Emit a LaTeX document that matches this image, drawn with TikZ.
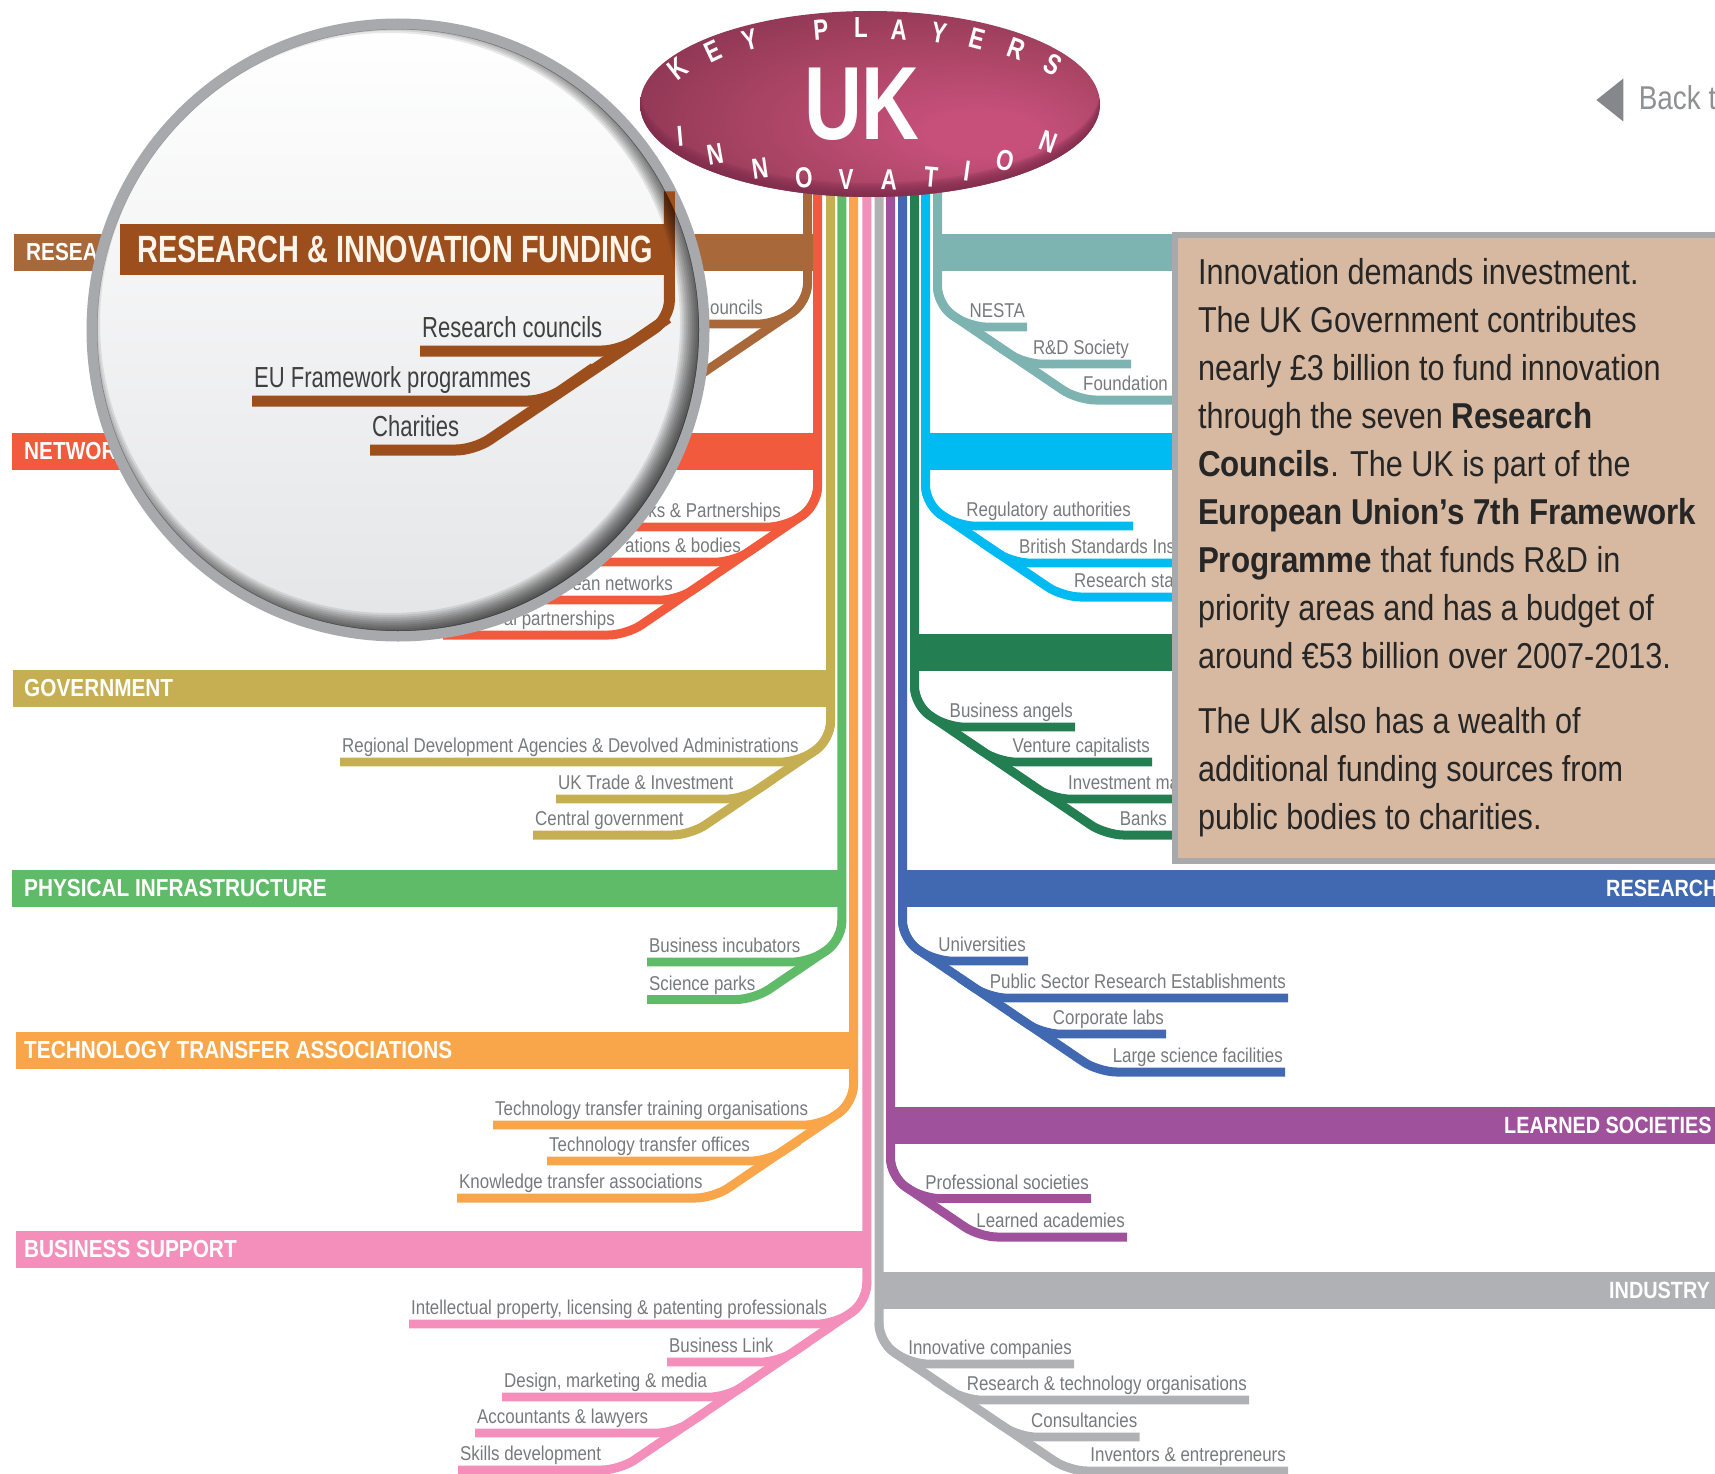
\documentclass[tikz,border=0pt]{standalone}
\usepackage{fontspec}
\usepackage{xcolor}
\usepackage{tikz}
\usetikzlibrary{shapes.geometric, positioning, calc}
\setmainfont[FakeStretch=0.845]{Liberation Sans}
\newfontfamily\panelfont[FakeStretch=0.85, BoldFeatures={FakeStretch=0.87}]{Liberation Sans}
\newfontfamily\lensfont[FakeStretch=0.76]{Liberation Sans}
\newfontfamily\ukfont[FakeStretch=0.77]{Liberation Sans}

\definecolor{brownc}{HTML}{A8683A}
\definecolor{redc}{HTML}{F15A3C}
\definecolor{goldc}{HTML}{C5AF52}
\definecolor{greenc}{HTML}{5FBB68}
\definecolor{orangec}{HTML}{F9A64A}
\definecolor{pinkc}{HTML}{F48FBC}
\definecolor{greyc}{HTML}{B0B1B4}
\definecolor{purplec}{HTML}{A0519C}
\definecolor{bluec}{HTML}{4169B2}
\definecolor{dkgreenc}{HTML}{237F52}
\definecolor{cyanc}{HTML}{00BAF2}
\definecolor{tealc}{HTML}{7DB4B2}
\definecolor{labgrey}{HTML}{77797C}
\definecolor{ringc}{HTML}{A7A9AC}
\definecolor{tanc}{HTML}{D7B9A1}
\definecolor{lensbrown}{HTML}{9C4E1C}
\definecolor{lensgrey}{HTML}{E4E5E7}
\definecolor{ukhi}{HTML}{C6507A}
\definecolor{ukmid}{HTML}{A2415F}
\definecolor{ukdark}{HTML}{7E2C4C}
\pgfdeclareradialshading{ukshade}{\pgfpoint{14bp}{-9bp}}{color(0bp)=(ukhi); color(6bp)=(ukhi); color(24bp)=(ukmid); color(40bp)=(ukdark); color(50bp)=(ukdark)}

\begin{document}
\begin{tikzpicture}[
    x=1pt, y=-1pt,
    barbox/.style={rectangle, anchor=west, inner xsep=8pt, inner ysep=0pt, minimum height=37pt, align=flush left, text=white, font=\fontsize{24.6}{30}\selectfont\bfseries},
    barright/.style={barbox, font=\fontsize{23.5}{30}\selectfont\bfseries},
    lab/.style={anchor=south west, inner xsep=2pt, inner ysep=9pt, text height=14pt, text depth=0pt, text=labgrey, font=\fontsize{20}{24}\selectfont},
    labr/.style={lab, anchor=south east},
    lablens/.style={lab, inner ysep=13pt, text height=20pt, text=black!75, font=\lensfont\fontsize{29}{34}\selectfont},
    subln/.style={line width=8.7pt, rounded corners=18pt},
    trunk/.style={line width=9pt, rounded corners=18pt},
    ltr/.style={text=white, inner sep=0pt, font=\ukfont\fontsize{29}{34}\selectfont\bfseries}
]
\useasboundingbox (0,0) rectangle (1715,1474);
\clip (0,0) rectangle (1715,1474);

% Coloured bars
\node[barbox, fill=brownc, text width=782.5pt] (fundbar) at (14,252.5) {\hspace*{4pt}RESEA};
\node[barbox, fill=redc, text width=794pt] (netbar) at (12,451.5) {\hspace*{4pt}NETWOR};
\node[barbox, fill=goldc, text width=806pt] (govbar) at (13,688.5) {\hspace*{3pt}GOVERNMENT};
\node[barbox, fill=greenc, text width=818pt] (physbar) at (12,888) {\hspace*{4pt}PHYSICAL INFRASTRUCTURE};
\node[barbox, fill=orangec, text width=826pt] (ttabar) at (16,1050.5) {TECHNOLOGY TRANSFER ASSOCIATIONS};
\node[barbox, fill=pinkc, text width=839pt] (bizbar) at (16,1249.5) {BUSINESS SUPPORT};
\node[barbox, fill=tealc, text width=231pt] (tealbar) at (933,252.5) {};
\node[barbox, fill=cyanc, text width=243pt] (cyanbar) at (921,451.5) {};
\node[barbox, fill=dkgreenc, text width=254pt] (finbar) at (910,652.5) {};
\node[barright, fill=bluec, text width=816pt] (resbar) at (898,888) {\hspace*{700pt}\rlap{RESEARCH}};
\node[barright, fill=purplec, text width=828pt] (socbar) at (886,1125.5) {\hspace*{610pt}\rlap{LEARNED SOCIETIES}};
\node[barright, fill=greyc, text width=839pt] (indbar) at (875,1290.5) {\hspace*{726pt}\rlap{INDUSTRY}};

% Tops of the trunks, behind the oval
\coordinate (browntop) at (807.5,110);
\coordinate (redtop) at (817.5,110);
\coordinate (goldtop) at (830.5,110);
\coordinate (greentop) at (841.75,110);
\coordinate (orangetop) at (853.5,110);
\coordinate (pinktop) at (866.75,110);
\coordinate (greytop) at (879,110);
\coordinate (purpletop) at (890.5,110);
\coordinate (bluetop) at (902.5,110);
\coordinate (dkgreentop) at (914.5,110);
\coordinate (cyantop) at (925.5,110);
\coordinate (tealtop) at (937.5,110);

% Funding, left
\node[labr] (councils) at (765,324) {ouncils};
\draw[subln, brownc] ([xshift=-100pt]councils.south east) -- ++(110.5,0) -- ++(32,-22) -- ++(0,-20);
\draw[trunk, brownc] (browntop) -- (807.5,302) -- (663,400) -- (600,400);

% Networks, left
\node[labr] (links) at (783,527) {ks \& Partnerships};
\node[labr] (assoc) at (743,562) {ations \& bodies};
\node[labr] (eunet) at (675,600) {ean networks};
\node[labr] (intl) at (617,635) {al partnerships};
\draw[subln, redc] ([xshift=-163pt]links.south east) -- ++(165.5,0) -- ++(32,-22) -- ++(0,-20);
\draw[subln, redc] ([xshift=-153pt]assoc.south east) -- ++(143.5,0) -- ++(30,-20);
\draw[subln, redc] ([xshift=-145pt]eunet.south east) -- ++(148,0) -- ++(30,-20);
\draw[trunk, redc] (redtop) -- (817.5,505) -- (626.5,635) -- ([xshift=-174pt]intl.south east);

% Government, left
\node[lab] (regional) at (340,762) {Regional Development Agencies \& Devolved Administrations};
\node[lab] (uktrade) at (556,799) {UK Trade \& Investment};
\node[lab] (central) at (533,835) {Central government};
\draw[subln, goldc] (regional.south west) -- ++(458.5,0) -- ++(32,-22) -- ++(0,-20);
\draw[subln, goldc] (uktrade.south west) -- ++(187.5,0) -- ++(30,-20);
\draw[trunk, goldc] (goldtop) -- (830.5,740) -- (690.5,835) -- (central.south west);

% Physical infrastructure, left
\node[lab] (incub) at (647,962) {Business incubators};
\node[lab] (parks) at (647,999.5) {Science parks};
\draw[subln, greenc] (incub.south west) -- ++(162.75,0) -- ++(32,-22) -- ++(0,-20);
\draw[trunk, greenc] (greentop) -- (841.75,940) -- (754,999.5) -- (parks.south west);

% Technology transfer, left
\node[lab] (ttorg) at (493,1125) {Technology transfer training organisations};
\node[lab] (ttoff) at (547,1161) {Technology transfer offices};
\node[lab] (kta) at (457,1198) {Knowledge transfer associations};
\draw[subln, orangec] (ttorg.south west) -- ++(328.5,0) -- ++(32,-22) -- ++(0,-20);
\draw[subln, orangec] (ttoff.south west) -- ++(221.5,0) -- ++(30,-20);
\draw[trunk, orangec] (orangetop) -- (853.5,1103) -- (713.5,1198) -- (kta.south west);

% Business support, left
\node[lab] (ipr) at (409,1324) {Intellectual property, licensing \& patenting professionals};
\node[lab] (blink) at (667,1362) {Business Link};
\node[lab] (design) at (502,1397) {Design, marketing \& media};
\node[lab] (account) at (475,1433) {Accountants \& lawyers};
\node[lab] (skills) at (458,1470) {Skills development};
\draw[subln, pinkc] (ipr.south west) -- ++(425.75,0) -- ++(32,-22) -- ++(0,-20);
\draw[subln, pinkc] (blink.south west) -- ++(111.6,0) -- ++(30,-20);
\draw[subln, pinkc] (design.south west) -- ++(225,0) -- ++(30,-20);
\draw[subln, pinkc] (account.south west) -- ++(199,0) -- ++(30,-20);
\draw[trunk, pinkc] (pinktop) -- (866.75,1302) -- (619.7,1470) -- (skills.south west);

% Industry, right
\node[labr] (innov) at (1074,1364) {Innovative companies};
\node[labr] (rto) at (1249,1400) {Research \& technology organisations};
\node[labr] (consult) at (1139.5,1437) {Consultancies};
\node[labr] (inventors) at (1288,1471) {Inventors \& entrepreneurs};
\draw[subln, greyc] (innov.south east) -- ++(-163,0) -- ++(-32,-22) -- ++(0,-20);
\draw[subln, greyc] (rto.south east) -- ++(-285,0) -- ++(-30,-20);
\draw[subln, greyc] (consult.south east) -- ++(-120.5,0) -- ++(-30,-20);
\draw[trunk, greyc] (greytop) -- (879,1342) -- (1069,1471) -- (inventors.south east);

% Learned societies, right
\node[labr] (prof) at (1091,1198.5) {Professional societies};
\node[labr] (learned) at (1127,1237) {Learned academies};
\draw[subln, purplec] (prof.south east) -- ++(-168.5,0) -- ++(-32,-22) -- ++(0,-20);
\draw[trunk, purplec] (purpletop) -- (890.5,1176.5) -- (979.5,1237) -- (learned.south east);

% Research, right
\node[labr] (univ) at (1028,961) {Universities};
\node[labr] (publicsec) at (1288,998) {Public Sector Research Establishments};
\node[labr] (corplabs) at (1166,1034) {Corporate labs};
\node[labr] (largesci) at (1285,1072) {Large science facilities};
\draw[subln, bluec] (univ.south east) -- ++(-93.5,0) -- ++(-32,-22) -- ++(0,-20);
\draw[subln, bluec] (publicsec.south east) -- ++(-298.5,0) -- ++(-30,-20);
\draw[subln, bluec] (corplabs.south east) -- ++(-123.5,0) -- ++(-30,-20);
\draw[trunk, bluec] (bluetop) -- (902.5,939) -- (1098.5,1072) -- (largesci.south east);

% Finance, right
\node[labr] (angels) at (1075,727) {Business angels};
\node[labr] (venture) at (1152,762) {Venture capitalists};
\node[lab] (invest) at (1066,799) {Investment ma};
\node[labr] (banks) at (1169,835) {Banks};
\draw[subln, dkgreenc] (angels.south east) -- ++(-128.5,0) -- ++(-32,-22) -- ++(0,-20);
\draw[subln, dkgreenc] (venture.south east) -- ++(-153.5,0) -- ++(-30,-20);
\draw[subln, dkgreenc] ([xshift=120pt]invest.south west) -- ++(-133.5,0) -- ++(-30,-20);
\draw[trunk, dkgreenc] (dkgreentop) -- (914.5,705) -- (1105.5,835) -- ([xshift=10pt]banks.south east);

% Standards, right
\node[labr] (regul) at (1133,526) {Regulatory authorities};
\node[lab] (britsi) at (1017,563) {British Standards Ins};
\node[lab] (ressta) at (1072,597) {Research sta};
\draw[subln, cyanc] (regul.south east) -- ++(-175.5,0) -- ++(-32,-22) -- ++(0,-20);
\draw[subln, cyanc] ([xshift=170pt]britsi.south west) -- ++(-174.5,0) -- ++(-30,-20);
\draw[trunk, cyanc] (cyantop) -- (925.5,504) -- (1062.5,597) -- ([xshift=120pt]ressta.south west);

% Charities and foundations, right
\node[labr] (nesta) at (1027,327) {NESTA};
\node[labr] (rds) at (1131,364) {R\&D Society};
\node[labr] (foundation) at (1170,400) {Foundation};
\draw[subln, tealc] (nesta.south east) -- ++(-57.5,0) -- ++(-32,-22) -- ++(0,-20);
\draw[subln, tealc] (rds.south east) -- ++(-106.5,0) -- ++(-30,-20);
\draw[trunk, tealc] (tealtop) -- (937.5,305) -- (1077.5,400) -- ([xshift=10pt]foundation.south east);

% Oval
\node[ellipse, shade, shading=ukshade, inner sep=0pt, minimum width=460pt, minimum height=186pt] (uk) at (870,104) {};
\begin{scope}
\clip (uk.center) ellipse [x radius=230pt, y radius=93pt];
\foreach \k in {2,4,...,14} {
    \fill[ukdark, opacity=.22, even odd rule] (uk.center) ellipse [x radius=232pt, y radius=95pt] (870,{104-\k}) ellipse [x radius=230pt, y radius=93pt];
}
\end{scope}
\node[inner sep=0pt, text=white, font=\ukfont\fontsize{104}{104}\selectfont\bfseries] (uktext) at (862,104) {UK};
\foreach \ch/\x/\y/\r [count=\i] in {K/678/69/38, E/713/51/25, Y/750/40/15, P/821/30/5, L/861/28/0, A/899/30/-3, Y/939/33/-10, E/977/39/-15, R/1016/49/-20, S/1053/65/-30,
    I/680/136/5, N/715/154/10, N/760/168/8, O/804/178/5, V/846/180/0, A/889/180/-2, T/931/177/-5, I/967/171/-8, O/1005/161/-12, N/1048/142/-20} {
    \node[ltr, rotate=\r] (ltr\i) at (\x,\y) {\ch};
}

% Text panel
\node[rectangle, draw=ringc, line width=6pt, fill=tanc, anchor=north west, inner xsep=23pt, inner ysep=0pt, text width=520pt, minimum height=626pt, align=flush left, text=black!85, font=\panelfont\fontsize{36}{48}\selectfont] (panel) at (1172,232) {Innovation demands investment.\\
The UK Government contributes\\
nearly £3 billion to fund innovation\\
through the seven \textbf{Research}\\
\textbf{Councils}. The UK is part of the\\
\textbf{European Union’s 7th Framework}\\
\textbf{Programme} that funds R\&D in\\
priority areas and has a budget of\\
around €53 billion over 2007-2013.\\[17pt]
The UK also has a wealth of\\
additional funding sources from\\
public bodies to charities.};

% Back arrow
\node[isosceles triangle, shape border rotate=180, isosceles triangle stretches, minimum width=43pt, minimum height=27pt, inner sep=0pt, fill=labgrey!70!ringc] (backarrow) at (1613,100) {};
\node[right=15pt of backarrow, yshift=2pt, inner sep=0pt, text=ringc!85!black, font=\fontsize{33}{38}\selectfont] (backtext) {Back t};

% Magnifying lens
\node[circle, draw=ringc, line width=11pt, shade, top color=white, bottom color=lensgrey, inner sep=0pt, minimum size=612pt] (lens) at (398,330) {};
\node[barbox, fill=lensbrown, minimum height=51pt, inner xsep=17pt, text width=521pt, text=orange!8, font=\lensfont\fontsize{38}{42}\selectfont\bfseries] (lensbar) at (120,249.5) {RESEARCH \& INNOVATION FUNDING};
\node[lablens] (rescouncils) at (420,351) {Research councils};
\node[lablens] (euprog) at (252,401) {EU Framework programmes};
\node[lablens] (charities) at (370,450) {Charities};
\draw[line width=11pt, rounded corners=18pt, lensbrown] (rescouncils.south west) -- ++(200,0) -- ++(48,-33);
\draw[line width=11pt, rounded corners=18pt, lensbrown] (euprog.south west) -- ++(294,0) -- ++(48,-33);
\draw[line width=11pt, rounded corners=18pt, lensbrown] (lensbar.east) ++(-6,-58) -- ++(0,127) -- (474,450) -- (charities.south west);
\begin{scope}
\clip (lens.center) circle (301pt);
\foreach \r in {290,292,...,314} {
    \fill[black, opacity=.09, even odd rule] (lens.center) circle (320pt) (390,323) circle (\r pt);
}
\end{scope}
\end{tikzpicture}
\end{document}
